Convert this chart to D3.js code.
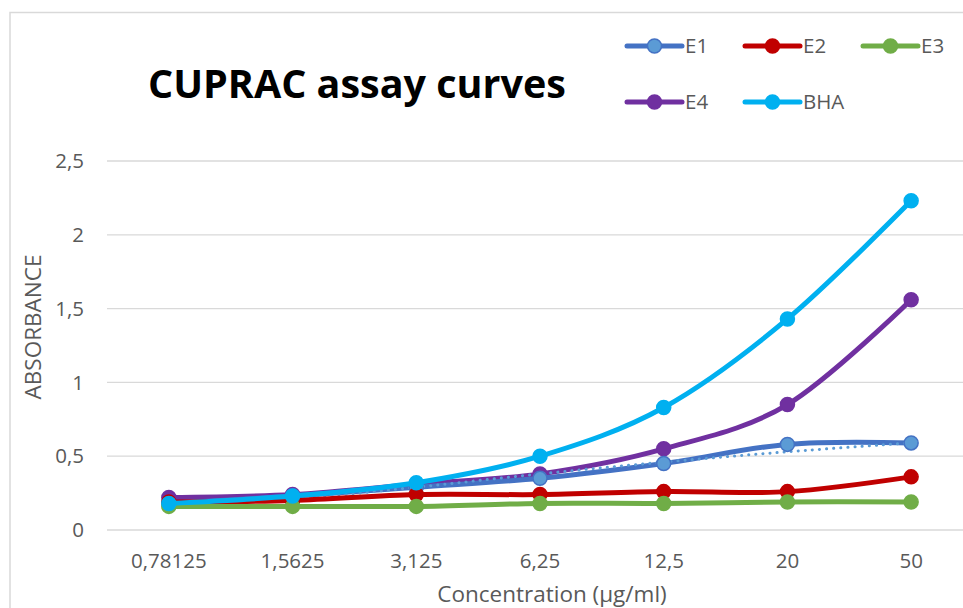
<!DOCTYPE html>
<html>
<head>
<meta charset="utf-8">
<title>CUPRAC assay curves</title>
<style>
  body { margin: 0; background: #fff; }
  svg { display: block; font-family: "Open Sans", sans-serif; }
  .grid line { stroke: #d9d9d9; stroke-width: 1.3; }
  .tick-label { fill: #595959; font-size: 20.5px; }
  .axis-title { fill: #595959; font-size: 22.5px; }
  .legend text { fill: #595959; font-size: 20.5px; }
</style>
</head>
<body>
<div id="chart"></div>
<script src="https://cdn.jsdelivr.net/npm/d3@7/dist/d3.min.js"></script>
<script>
var categories = ['0,78125', '1,5625', '3,125', '6,25', '12,5', '20', '50'];
var yTicks = [0, 0.5, 1, 1.5, 2, 2.5];
var seriesNames = ['E1', 'E2', 'E3', 'E4', 'BHA'];
var e1 = [0.18, 0.23, 0.29, 0.35, 0.45, 0.58, 0.59];
var e2 = [0.19, 0.20, 0.24, 0.24, 0.26, 0.26, 0.36];
var e3 = [0.16, 0.16, 0.16, 0.18, 0.18, 0.19, 0.19];
var e4 = [0.22, 0.24, 0.31, 0.38, 0.55, 0.85, 1.56];
var bha = [0.18, 0.23, 0.32, 0.50, 0.83, 1.43, 2.23];
// dotted trendline drawn for E1
var e1Trend = [0.16, 0.21, 0.29, 0.38, 0.46, 0.53, 0.59];

var colors = {E1: '#4472C4', E2: '#C00000', E3: '#70AD47', E4: '#7030A0', BHA: '#00B0F0'};
var markerFill = {E1: '#5B9BD5', E2: '#C00000', E3: '#70AD47', E4: '#7030A0', BHA: '#00B0F0'};
var values = {E1: e1, E2: e2, E3: e3, E4: e4, BHA: bha};

var width = 963, height = 608;
var svg = d3.select('#chart').append('svg')
  .attr('width', width).attr('height', height);

// chart border
svg.append('path')
  .attr('d', 'M10,' + height + 'V12.5H' + width)
  .attr('fill', 'none').attr('stroke', '#d9d9d9').attr('stroke-width', 1.5);

var x = d3.scaleBand().domain(categories).range([107, 973]);
var y = d3.scaleLinear().domain([0, 2.5]).range([530, 161]);
var cx = function(i) { return x(categories[i]) + x.bandwidth() / 2; };

// gridlines
svg.append('g').attr('class', 'grid').selectAll('line')
  .data(yTicks).enter().append('line')
  .attr('x1', 107).attr('x2', width)
  .attr('y1', function(d) { return y(d); })
  .attr('y2', function(d) { return y(d); });

// y tick labels
svg.append('g').selectAll('text')
  .data(yTicks).enter().append('text')
  .attr('class', 'tick-label')
  .attr('x', 84).attr('y', function(d) { return y(d); })
  .attr('dy', '0.35em').attr('text-anchor', 'end')
  .text(function(d) { return String(d).replace('.', ','); });

// x tick labels
svg.append('g').selectAll('text')
  .data(categories).enter().append('text')
  .attr('class', 'tick-label')
  .attr('x', function(d, i) { return cx(i); }).attr('y', 561)
  .attr('dy', '0.35em').attr('text-anchor', 'middle')
  .text(function(d) { return d; });

svg.append('text').attr('class', 'axis-title')
  .attr('x', 552).attr('y', 594).attr('dy', '0.35em')
  .attr('text-anchor', 'middle').text('Concentration (µg/ml)');

svg.append('text').attr('class', 'axis-title')
  .attr('transform', 'translate(33,327) rotate(-90)')
  .attr('dy', '0.35em').attr('text-anchor', 'middle').text('ABSORBANCE');

svg.append('text')
  .attr('x', 148).attr('y', 98)
  .attr('font-size', 39.5).attr('font-weight', 'bold').attr('fill', '#000')
  .text('CUPRAC assay curves');

var line = d3.line()
  .x(function(d, i) { return cx(i); })
  .y(function(d) { return y(d); })
  .curve(d3.curveCatmullRom.alpha(0));

var order = ['E4', 'E1', 'E2', 'E3', 'BHA'];
order.forEach(function(name) {
  var g = svg.append('g');
  g.append('path').datum(values[name])
    .attr('d', line).attr('fill', 'none')
    .attr('stroke', colors[name]).attr('stroke-width', 5)
    .attr('stroke-linejoin', 'round').attr('stroke-linecap', 'round');
  if (name === 'E1') {
    g.append('path').datum(e1Trend)
      .attr('d', line).attr('fill', 'none')
      .attr('stroke', '#5B9BD5').attr('stroke-width', 3)
      .attr('stroke-dasharray', '0.1 7').attr('stroke-linecap', 'round');
  }
  g.selectAll('circle').data(values[name]).enter().append('circle')
    .attr('cx', function(d, i) { return cx(i); })
    .attr('cy', function(d) { return y(d); })
    .attr('r', 7)
    .attr('fill', markerFill[name])
    .attr('stroke', colors[name]).attr('stroke-width', 1.5);
});

// legend
var legendPos = [[627, 46], [745, 46], [863, 46], [627, 102], [745, 102]];
var legend = svg.selectAll('.legend').data(seriesNames).enter().append('g')
  .attr('class', 'legend')
  .attr('transform', function(d, i) { return 'translate(' + legendPos[i][0] + ',' + legendPos[i][1] + ')'; });
legend.append('line')
  .attr('x1', 0).attr('x2', 55)
  .attr('stroke', function(d) { return colors[d]; })
  .attr('stroke-width', 5).attr('stroke-linecap', 'round');
legend.append('circle')
  .attr('cx', 27.5).attr('r', 7)
  .attr('fill', function(d) { return markerFill[d]; })
  .attr('stroke', function(d) { return colors[d]; }).attr('stroke-width', 1.5);
legend.append('text')
  .attr('x', 58).attr('dy', '0.35em')
  .text(function(d) { return d; });
</script>
</body>
</html>
